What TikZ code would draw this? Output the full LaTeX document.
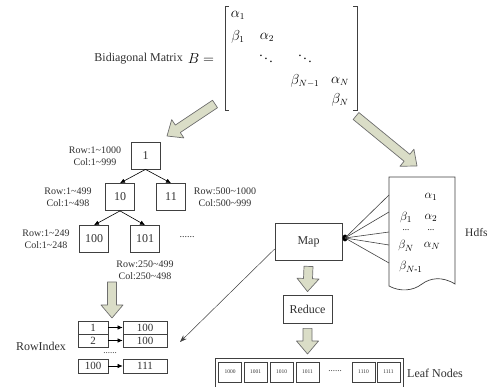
\documentclass[tikz,border=0pt]{standalone}
\usepackage{fontspec}
\setmainfont{Liberation Serif}
\usepackage{amsmath}
\usetikzlibrary{arrows.meta, positioning, calc, shapes.geometric}
\definecolor{ArrowFill}{HTML}{DADDC7}
\definecolor{ArrowLine}{HTML}{6E6E6E}
\definecolor{BoxLine}{HTML}{404040}
\definecolor{TextGray}{HTML}{303030}

\tikzset{
  fatarrow/.style={draw=ArrowLine, fill=ArrowFill, line width=0.7pt, line join=round},
  treebox/.style={draw=BoxLine, line width=0.8pt, minimum width=29pt, minimum height=27pt,
    inner sep=0pt, font=\fontsize{12}{12}\selectfont, text=TextGray},
  rangelbl/.style={align=center, inner sep=0pt, text=TextGray, font=\fontsize{10}{12}\selectfont},
  cell/.style={draw=BoxLine, line width=0.7pt, minimum height=13pt, inner sep=0pt,
    font=\fontsize{11}{11}\selectfont, text=TextGray},
  leaf/.style={draw=BoxLine, line width=0.9pt, minimum width=23pt, minimum height=20pt,
    inner sep=0pt, font=\fontsize{5.5}{5.5}\selectfont, text=TextGray},
  procbox/.style={draw=BoxLine, line width=0.8pt, inner sep=0pt, fill=white,
    font=\fontsize{12}{12}\selectfont, text=TextGray},
  lbl/.style={inner sep=0pt, text=TextGray, font=\fontsize{12}{12}\selectfont},
  entry/.style={inner sep=0pt, font=\fontsize{13.5}{13.5}\selectfont},
  smallarr/.style={-{Latex[length=5pt,width=4.5pt]}, black, line width=0.6pt},
}

% block arrow from #1 to #2 (named coordinates)
\newcommand{\fatarrow}[2]{%
  \path ($(#2)!13pt!(#1)$) coordinate (fa-head);
  \filldraw[fatarrow] ($(#1)!4.5pt!90:(#2)$) -- ($(fa-head)!4.5pt!90:(#2)$)
    -- ($(fa-head)!11pt!90:(#2)$) -- (#2) -- ($(fa-head)!11pt!-90:(#2)$)
    -- ($(fa-head)!4.5pt!-90:(#2)$) -- ($(#1)!4.5pt!-90:(#2)$) -- cycle;
}

\begin{document}
\begin{tikzpicture}[x=1pt, y=-1pt]
  \useasboundingbox (0,0) rectangle (490,387);

  % bidiagonal matrix
  \node[lbl, anchor=east] (bdtitle) at (183,59) {Bidiagonal Matrix};
  \node[entry] (beq) at (201,59) {$B=$};
  \draw[BoxLine, line width=0.6pt] (229,6) -- (225,6) -- (225,110) -- (229,110);
  \draw[BoxLine, line width=0.6pt] (353,6) -- (357,6) -- (357,110) -- (353,110);
  \node[entry] (ma1) at (238,15) {$\alpha_1$};
  \node[entry] (mb1) at (238,37) {$\beta_1$};
  \node[entry] (ma2) at (267,37) {$\alpha_2$};
  \node[entry] (md1) at (266,56) {$\ddots$};
  \node[entry] (md2) at (305,56) {$\ddots$};
  \node[entry] (mbn1) at (305,81) {$\beta_{N-1}$};
  \node[entry] (man) at (340,81) {$\alpha_N$};
  \node[entry] (mbn) at (340,100) {$\beta_N$};

  \coordinate (split-s) at (215,104);
  \coordinate (split-e) at (167,136);
  \coordinate (store-s) at (356,116);
  \coordinate (store-e) at (417,166);
  \fatarrow{split-s}{split-e}
  \fatarrow{store-s}{store-e}

  % tree
  \node[treebox] (t1) at (145.5,155.5) {1};
  \node[treebox] (t10) at (120,197) {10};
  \node[treebox] (t11) at (171,197) {11};
  \node[treebox] (t100) at (94,239) {100};
  \node[treebox] (t101) at (145,239) {101};
  \draw[smallarr] (t1.south) -- (t10.north);
  \draw[smallarr] (t1.south) -- (t11.north);
  \draw[smallarr] (t10.south) -- (t100.north);
  \draw[smallarr] (t10.south) -- (t101.north);
  \node[lbl, font=\fontsize{10}{10}\selectfont] (tdots) at (187,237) {......};

  \node[rangelbl] (r1) at (95,156) {Row:1\textasciitilde1000\\Col:1\textasciitilde999};
  \node[rangelbl] (r10) at (68,197) {Row:1\textasciitilde499\\Col:1\textasciitilde498};
  \node[rangelbl] (r11) at (225,197) {Row:500\textasciitilde1000\\Col:500\textasciitilde999};
  \node[rangelbl] (r100) at (46,239) {Row:1\textasciitilde249\\Col:1\textasciitilde248};
  \node[rangelbl] (r101) at (145,270.5) {Row:250\textasciitilde499\\Col:250\textasciitilde498};

  \coordinate (idx-s) at (112,282);
  \coordinate (idx-e) at (112,318);
  \fatarrow{idx-s}{idx-e}

  % row index
  \node[cell, minimum width=30pt] (k1) at (93,327.5) {1};
  \node[cell, minimum width=44pt] (v1) at (145,327.5) {100};
  \node[cell, minimum width=30pt] (k2) at (93,340.5) {2};
  \node[cell, minimum width=44pt] (v2) at (145,340.5) {100};
  \node[cell, minimum width=30pt, minimum height=14pt] (k3) at (93,366) {100};
  \node[cell, minimum width=44pt, minimum height=14pt] (v3) at (145,366) {111};
  \draw[smallarr] (k1) -- (v1);
  \draw[smallarr] (k2) -- (v2);
  \draw[smallarr] (k3) -- (v3);
  \node[lbl, font=\fontsize{9}{9}\selectfont] (kdots) at (110,353) {......};
  \node[lbl] (rowidx) at (41,346) {RowIndex};

  % map / reduce
  \node[procbox, minimum width=67pt, minimum height=37pt] (map) at (308.5,241.5) {Map};
  \node[procbox, minimum width=49pt, minimum height=28pt] (reduce) at (307.5,309) {Reduce};
  \coordinate (mr-s) at ($(map.south)+(0,6)$);
  \coordinate (mr-e) at ($(reduce.north)+(0,-3)$);
  \coordinate (rl-s) at ($(reduce.south)+(0,5)$);
  \coordinate (rl-e) at (307.5,354);
  \fatarrow{mr-s}{mr-e}
  \fatarrow{rl-s}{rl-e}
  \coordinate (idx-in) at (180,342);
  \draw[-{Stealth[length=7pt,width=5pt]}, BoxLine, line width=0.5pt]
    ($(map.south west)!0.3!(map.north west)$) -- (idx-in);

  % hdfs document
  \draw[BoxLine, line width=0.7pt, fill=white] (389,177) -- (455,177) -- (455,284)
    .. controls (442,276) and (430,278) .. (422,284)
    .. controls (413,291) and (400,292) .. (389,286) -- cycle;
  \node[entry, font=\fontsize{13}{13}\selectfont] (ha1) at (431,197) {$\alpha_1$};
  \node[entry, font=\fontsize{13}{13}\selectfont] (hb1) at (406,218) {$\beta_1$};
  \node[entry, font=\fontsize{13}{13}\selectfont] (ha2) at (431,218) {$\alpha_2$};
  \node[entry, font=\fontsize{9}{9}\selectfont] (hd1) at (406,230) {...};
  \node[entry, font=\fontsize{9}{9}\selectfont] (hd2) at (431,230) {...};
  \node[entry, font=\fontsize{13}{13}\selectfont] (hbn) at (406,246) {$\beta_N$};
  \node[entry, font=\fontsize{13}{13}\selectfont] (han) at (432,246) {$\alpha_N$};
  \node[entry, font=\fontsize{13}{13}\selectfont] (hbn1) at (411,267) {$\beta_{N\text{-}1}$};
  \node[lbl, anchor=west, font=\fontsize{11.5}{11.5}\selectfont] (hdfs) at (465,233) {Hdfs};

  \node[ellipse, fill=black, inner sep=0pt, minimum width=5pt, minimum height=7pt] (hub) at (345,238) {};
  \foreach \yy [count=\i] in {195,212,232,245,263}
    \coordinate (dl\i) at (389,\yy);
  \foreach \i in {1,...,5}
    \draw[BoxLine, line width=0.6pt] (hub.center) -- (dl\i);

  % leaf nodes
  \draw[BoxLine, line width=0.7pt] (215,396) -- (215,358) -- (403,358) -- (403,396);
  \node[leaf] (l1) at (230,372) {1000};
  \node[leaf] (l2) at (255.5,372) {1001};
  \node[leaf] (l3) at (281.5,372) {1010};
  \node[leaf] (l4) at (307.5,372) {1011};
  \node[lbl, font=\fontsize{9}{9}\selectfont] (ldots) at (335,371) {......};
  \node[leaf] (l5) at (363.5,372) {1110};
  \node[leaf] (l6) at (388.5,372) {1111};
  \node[lbl] (leafs) at (435,373) {Leaf Nodes};
\end{tikzpicture}
\end{document}
